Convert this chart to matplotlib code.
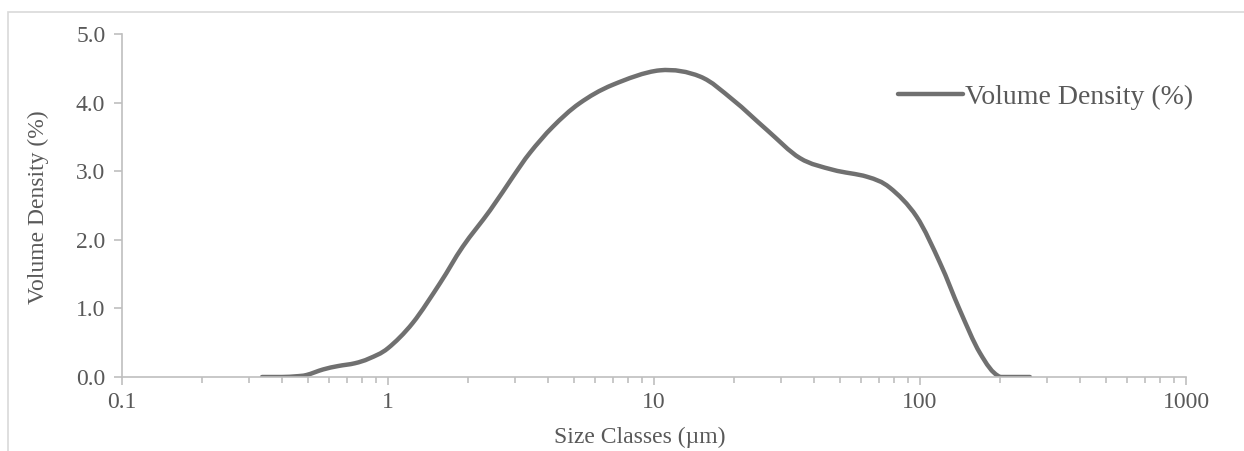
import matplotlib
matplotlib.use("Agg")
import matplotlib.pyplot as plt
import numpy as np
from matplotlib.patches import Rectangle, PathPatch
from matplotlib.path import Path
from matplotlib.lines import Line2D

size_um = [0.336, 0.40, 0.45, 0.495, 0.57, 0.65, 0.75, 0.85, 1.0, 1.24, 1.57,
           1.91, 2.42, 2.95, 3.42, 4.17, 5.25, 7.0, 10.5, 14.9, 19.8, 26.6, 35.4,
           47.1, 63.1, 77.0, 97.0, 119.0, 141.0, 168.0, 200.0, 259.0]
volume_density = [0.0, 0.0, 0.01, 0.03, 0.11, 0.16, 0.2, 0.27, 0.42, 0.79, 1.37,
                  1.9, 2.43, 2.92, 3.27, 3.65, 3.99, 4.26, 4.47, 4.38, 4.04, 3.6, 3.19,
                  3.02, 2.92, 2.76, 2.34, 1.66, 0.98, 0.35, 0.0, 0.0]
series_name = "Volume Density (%)"
x_label = "Size Classes (µm)"
y_label = "Volume Density (%)"
y_ticks = [0.0, 1.0, 2.0, 3.0, 4.0, 5.0]
x_ticks = [0.1, 1, 10, 100, 1000]
x_tick_labels = ["0.1", "1", "10", "100", "1000"]

plt.rcParams['font.family'] = ['Liberation Serif', 'DejaVu Serif']
text_color = "#595959"
axis_color = "#bfbfbf"
line_color = "#707070"

fig = plt.figure(figsize=(12.44, 4.51), dpi=100)
fig.patches.append(Rectangle((8/1244, -0.1), 1.2, 1 - 12/451 + 0.1, transform=fig.transFigure,
                             fill=False, edgecolor="#d9d9d9", linewidth=1.2))
ax = fig.add_axes([122/1244, 1 - 377/451, (1186 - 122)/1244, (377 - 34)/451])

ax.set_xscale('log')
ax.set_xlim(0.1, 1000)
ax.set_ylim(0, 5)

# smoothed line (Bezier through the data points, like a spreadsheet "smoothed line")
u = np.log10(np.array(size_um, dtype=float))
v = np.array(volume_density, dtype=float)
su = 266.0
sv = 68.6
pu, pv = u * su, v * sv
n = len(u)
verts = [(pu[0], pv[0])]
codes = [Path.MOVETO]
for i in range(n - 1):
    i0 = max(i - 1, 0)
    i3 = min(i + 2, n - 1)
    c1 = (pu[i] + (pu[i + 1] - pu[i0]) / 6, pv[i] + (pv[i + 1] - pv[i0]) / 6)
    c2 = (pu[i + 1] - (pu[i3] - pu[i]) / 6, pv[i + 1] - (pv[i3] - pv[i]) / 6)
    verts += [c1, c2, (pu[i + 1], pv[i + 1])]
    codes += [Path.CURVE4] * 3
verts = [(10 ** (a / su), max(b / sv, 0.0)) for a, b in verts]
patch = PathPatch(Path(verts, codes), facecolor='none', edgecolor=line_color, linewidth=3.2,
                  capstyle='round', joinstyle='round', transform=ax.transData)
ax.add_patch(patch)

ax.set_xticks(x_ticks)
ax.set_xticklabels(x_tick_labels)
ax.set_yticks(y_ticks)
ax.set_yticklabels([f"{t:.1f}" for t in y_ticks])

for s in ['top', 'right']:
    ax.spines[s].set_visible(False)
for s in ['left', 'bottom']:
    ax.spines[s].set_color(axis_color)
    ax.spines[s].set_linewidth(1.2)

ax.tick_params(axis='both', which='major', colors=axis_color, labelcolor=text_color,
               labelsize=17, length=6, width=1.2, direction='out')
ax.tick_params(axis='x', which='minor', colors=axis_color, length=4, width=1.2, direction='out')
ax.tick_params(axis='x', which='major', pad=5)
ax.tick_params(axis='y', which='major', pad=6)

fig.text(640/1244, 1 - 437/451, x_label, ha='center', va='center', fontsize=17, color=text_color)
fig.text(38/1244, 1 - 207/451, y_label, ha='center', va='center', rotation=90, fontsize=17,
         color=text_color)

handle = Line2D([], [], color=line_color, linewidth=3.2, solid_capstyle='round')
leg = ax.legend([handle], [series_name], loc='center left', bbox_to_anchor=(898/1244, 1 - 97/451),
                bbox_transform=fig.transFigure, frameon=False, fontsize=20,
                handlelength=2.35, handletextpad=0.05, borderpad=0, borderaxespad=0)
for t in leg.get_texts():
    t.set_color(text_color)

fig.savefig("out.png", dpi=100)
